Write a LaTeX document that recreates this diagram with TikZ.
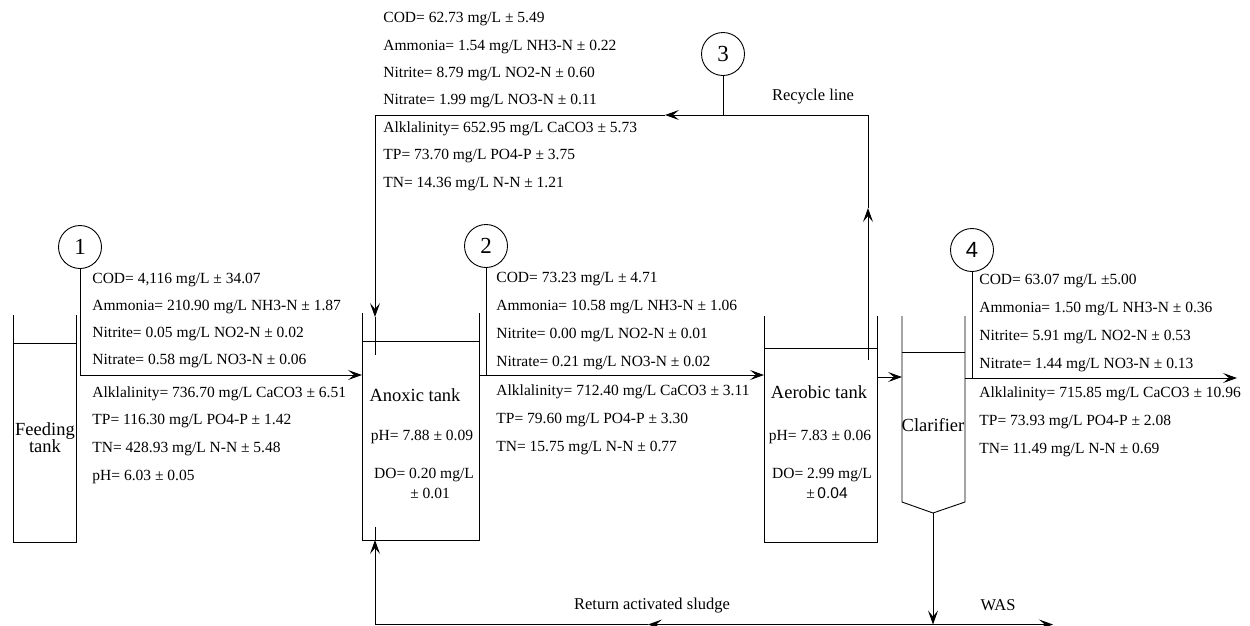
\documentclass[tikz,border=0pt]{standalone}
\usepackage{fontspec}
\setmainfont{Liberation Serif}
\newfontfamily\sansf{Liberation Sans}
\usetikzlibrary{arrows.meta}
\begin{document}
\begin{tikzpicture}[x=1pt,y=-1pt,line width=0.9pt,
  data/.style={anchor=west,inner sep=0pt,font=\fontsize{15.5}{18}\selectfont,text height=11pt,text depth=3pt},
  lbl/.style={inner sep=0pt,font=\fontsize{18.5}{20}\selectfont,align=center},
  tdata/.style={inner sep=0pt,font=\fontsize{15.5}{18}\selectfont},
  num/.style={circle,draw,minimum size=43pt,inner sep=0pt,font=\fontsize{23}{24}\selectfont},
  flow/.style={-{Stealth[length=14pt,width=10pt,inset=6pt]}},
]
\useasboundingbox (0,0) rectangle (1250,625);

% ---------- tanks ----------
% feeding tank
\draw (13,315) -- (13,542) -- (76,542) -- (76,315);
\draw (13,343) -- (76,343);
% anoxic tank
\draw (362,313) -- (362,540) -- (479,540) -- (479,313);
\draw (362,341) -- (479,341);
% aerobic tank
\draw (764,316) -- (764,542) -- (877,542) -- (877,316);
\draw (764,348) -- (877,348);
% clarifier
\draw (902,316) -- (902,502) -- (933,513) -- (965,502) -- (965,316);
\draw (902,352) -- (965,352);

% ---------- tank labels ----------
\node[lbl] (feedlbl) at (45,438) {Feeding\\[-3pt]tank};
\node[lbl] (anoxlbl) at (415,395) {Anoxic tank};
\node[tdata] (anoxph) at (422,437) {pH= 7.88 ± 0.09};
\node[tdata] (anoxdo) at (424,475) {DO= 0.20 mg/L};
\node[tdata] (anoxdo2) at (430,493) {± 0.01};
\node[lbl] (aerlbl) at (819,392) {Aerobic tank};
\node[tdata] (aerph) at (820,437) {pH= 7.83 ± 0.06};
\node[tdata] (aerdo) at (822,475) {DO= 2.99 mg/L};
\node[tdata] (aerdo2) at (827,493) {±{\sansf\,0.04}};
\node[lbl] (clarlbl) at (933,425) {Clarifier};

% ---------- sample points ----------
\node[num] (c1) at (80,247) {1};
\node[num] (c2) at (486,246) {2};
\node[num] (c3) at (723,54) {3};
\node[num,font=\sansf\fontsize{22}{24}\selectfont] (c4) at (972,250) {4};

\coordinate (j1) at (80,375);
\coordinate (j2) at (486,375);
\coordinate (j3) at (723,115);
\coordinate (j4) at (972,378);

\draw (c1.south) -- (j1);
\draw (c2.south) -- (j2);
\draw (c3.south) -- (j3);
\draw (c4.south) -- (j4);

% ---------- main flow ----------
\coordinate (anoxin) at (362,375);
\coordinate (anoxout) at (479,375);
\coordinate (aerin) at (764,375);
\coordinate (aerout) at (877,377);
\coordinate (clarin) at (902,377);
\coordinate (clarout) at (965,378);
\coordinate (eff) at (1237,378);

\draw[flow] (j1) -- (anoxin);
\draw[flow] (anoxout) -- (aerin);
\draw[flow] (aerout) -- (clarin);
\draw[flow] (clarout) -- (eff);

% ---------- recycle line ----------
\coordinate (r0) at (868,360);
\coordinate (r1) at (868,208);
\coordinate (r2) at (868,115);
\coordinate (r3) at (665,115);
\coordinate (r4) at (375,115);
\coordinate (r5) at (375,317);
\coordinate (r6) at (375,355);
\draw[flow] (r0) -- (r1);
\draw[flow] (r1) -- (r2) -- (r3);
\draw[flow] (r3) -- (r4) -- (r5);
\draw (r5) -- (r6);
\node[lbl,font=\fontsize{16.5}{18}\selectfont] (reclbl) at (813,97) {Recycle line};

% ---------- return sludge / WAS ----------
\coordinate (apex) at (933,513);
\coordinate (b0) at (933,624.5);
\coordinate (b1) at (648,624.5);
\coordinate (b2) at (375,624.5);
\coordinate (b3) at (375,540);
\coordinate (b4) at (375,527);
\coordinate (was) at (1053,624.5);
\draw[flow] (apex) -- (b0);
\draw[flow] (b0) -- (b1);
\draw[flow] (b1) -- (b2) -- (b3);
\draw (b3) -- (b4);
\draw[flow] (b0) -- (was);
\node[lbl,font=\fontsize{16.5}{18}\selectfont] (raslbl) at (652,606) {Return activated sludge};
\node[lbl,font=\fontsize{16.5}{18}\selectfont] (waslbl) at (998,605) {WAS};

% ---------- point 1 data ----------
\node[data] (p1a) at (92,279) {COD= 4,116 mg/L ± 34.07};
\node[data] (p1b) at (92,306) {Ammonia= 210.90 mg/L NH3-N ± 1.87};
\node[data] (p1c) at (92,333) {Nitrite= 0.05 mg/L NO2-N ± 0.02};
\node[data] (p1d) at (92,360) {Nitrate= 0.58 mg/L NO3-N ± 0.06};
\node[data] (p1e) at (92,393) {Alklalinity= 736.70 mg/L CaCO3 ± 6.51};
\node[data] (p1f) at (92,420) {TP= 116.30 mg/L PO4-P ± 1.42};
\node[data] (p1g) at (92,448) {TN= 428.93 mg/L N-N ± 5.48};
\node[data] (p1h) at (92,476) {pH= 6.03 ± 0.05};

% ---------- point 2 data ----------
\node[data] (p2a) at (496,278) {COD= 73.23 mg/L ± 4.71};
\node[data] (p2b) at (496,306) {Ammonia= 10.58 mg/L NH3-N ± 1.06};
\node[data] (p2c) at (496,334) {Nitrite= 0.00 mg/L NO2-N ± 0.01};
\node[data] (p2d) at (496,362) {Nitrate= 0.21 mg/L NO3-N ± 0.02};
\node[data] (p2e) at (496,391) {Alklalinity= 712.40 mg/L CaCO3 ± 3.11};
\node[data] (p2f) at (496,419) {TP= 79.60 mg/L PO4-P ± 3.30};
\node[data] (p2g) at (496,447) {TN= 15.75 mg/L N-N ± 0.77};

% ---------- point 3 data ----------
\node[data] (p3a) at (383,18) {COD= 62.73 mg/L ± 5.49};
\node[data] (p3b) at (383,46) {Ammonia= 1.54 mg/L NH3-N ± 0.22};
\node[data] (p3c) at (383,73) {Nitrite= 8.79 mg/L NO2-N ± 0.60};
\node[data] (p3d) at (383,100) {Nitrate= 1.99 mg/L NO3-N ± 0.11};
\node[data] (p3e) at (383,128) {Alklalinity= 652.95 mg/L CaCO3 ± 5.73};
\node[data] (p3f) at (383,155) {TP= 73.70 mg/L PO4-P ± 3.75};
\node[data] (p3g) at (383,183) {TN= 14.36 mg/L N-N ± 1.21};

% ---------- point 4 data ----------
\node[data] (p4a) at (979,280) {COD= 63.07 mg/L ±5.00};
\node[data] (p4b) at (979,308) {Ammonia= 1.50 mg/L NH3-N ± 0.36};
\node[data] (p4c) at (979,336) {Nitrite= 5.91 mg/L NO2-N ± 0.53};
\node[data] (p4d) at (979,364) {Nitrate= 1.44 mg/L NO3-N ± 0.13};
\node[data] (p4e) at (979,393) {Alklalinity= 715.85 mg/L CaCO3 ± 10.96};
\node[data] (p4f) at (979,421) {TP= 73.93 mg/L PO4-P ± 2.08};
\node[data] (p4g) at (979,449) {TN= 11.49 mg/L N-N ± 0.69};
\end{tikzpicture}
\end{document}
